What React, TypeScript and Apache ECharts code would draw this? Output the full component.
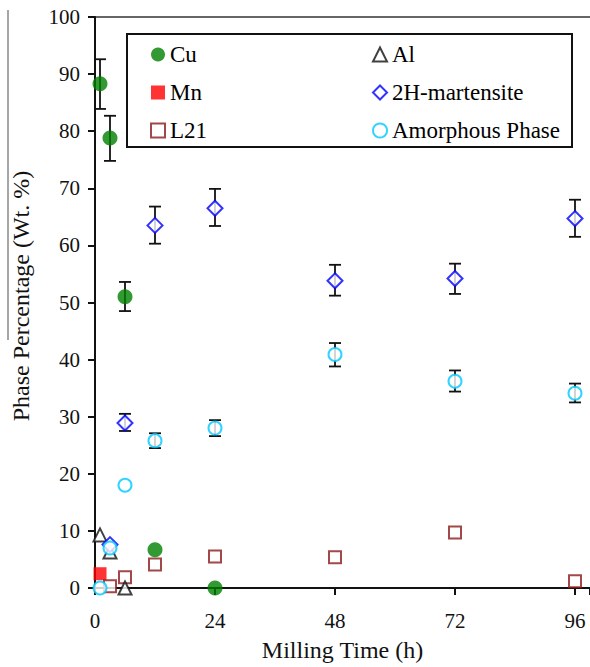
import React, { useEffect, useRef } from "react";
import * as echarts from "echarts";

const xTicks = [0, 24, 48, 72, 96];
const yTicks = [0, 10, 20, 30, 40, 50, 60, 70, 80, 90, 100];

const cuX = [1, 3, 6, 12, 24];
const cuY = [88.3, 78.8, 51.0, 6.7, 0];
const mnX = [1];
const mnY = [2.5];
const l21X = [3, 6, 12, 24, 48, 72, 96];
const l21Y = [0.3, 1.9, 4.1, 5.5, 5.4, 9.7, 1.2];
const alX = [1, 3, 6];
const alY = [9.3, 6.3, 0];
const h2X = [3, 6, 12, 24, 48, 72, 96];
const h2Y = [7.6, 28.9, 63.5, 66.5, 53.8, 54.2, 64.7];
const amX = [1, 3, 6, 12, 24, 48, 72, 96];
const amY = [0, 7.0, 18.0, 25.8, 28.0, 40.9, 36.2, 34.1];

// error bars: x, low, high
const errX = [1, 3, 6, 6, 12, 24, 48, 72, 96, 12, 24, 48, 72, 96];
const errLow = [83.9, 74.8, 48.5, 27.5, 60.3, 63.4, 51.2, 51.5, 61.5, 24.5, 26.6, 38.8, 34.4, 32.5];
const errHigh = [92.6, 82.7, 53.6, 30.5, 66.8, 69.9, 56.6, 56.8, 68.0, 27.1, 29.4, 42.9, 38.1, 35.8];

const FONT = "Liberation Serif, Times New Roman, serif";

const pair = (xs: number[], ys: number[]) => xs.map((x, i) => [x, ys[i]]);

export default function App() {
  const ref = useRef<HTMLDivElement>(null);
  useEffect(() => {
    if (!ref.current) return;
    const chart = echarts.init(ref.current, null, { renderer: "svg" });
    const errData = errX.map((x, i) => [x, errLow[i], errHigh[i]]);
    const legendText = { fontFamily: FONT, fontSize: 23, color: "#000" };
    chart.setOption({
      animation: false,
      backgroundColor: "#fff",
      textStyle: { fontFamily: FONT },
      grid: { left: 95, right: 0, top: 17, bottom: 79, containLabel: false, outerBoundsMode: "none" },
      xAxis: {
        type: "value",
        min: 0,
        max: 99,
        interval: 24,
        axisLine: { show: true, lineStyle: { color: "#111", width: 2 } },
        axisTick: { show: true, length: 7, inside: false, lineStyle: { color: "#111", width: 2 } },
        axisLabel: {
          fontFamily: FONT,
          fontSize: 21,
          color: "#111",
          margin: 22,
          formatter: (v: number) => (xTicks.includes(v) ? String(v) : ""),
        },
        splitLine: { show: false },
        name: "Milling Time (h)",
        nameLocation: "middle",
        nameGap: 50,
        nameTextStyle: { fontFamily: FONT, fontSize: 24, color: "#111" },
      },
      yAxis: {
        type: "value",
        min: 0,
        max: 100,
        interval: 10,
        axisLine: { show: true, lineStyle: { color: "#111", width: 2 } },
        axisTick: { show: true, length: 7, inside: false, lineStyle: { color: "#111", width: 2 } },
        axisLabel: {
          fontFamily: FONT,
          fontSize: 21,
          color: "#111",
          margin: 15,
          formatter: (v: number) => (yTicks.includes(v) ? String(v) : ""),
        },
        splitLine: { show: false },
      },
      legend: [
        {
          data: ["Cu", "Mn", "L21"],
          orient: "vertical",
          left: 145,
          top: 38,
          itemWidth: 14,
          itemHeight: 14,
          itemGap: 15,
          textStyle: legendText,
          selectedMode: false,
        },
        {
          data: ["Al", "2H-martensite", "Amorphous Phase"],
          orient: "vertical",
          left: 367,
          top: 38,
          itemWidth: 14,
          itemHeight: 14,
          itemGap: 15,
          textStyle: legendText,
          selectedMode: false,
        },
      ],
      graphic: [
        {
          type: "rect",
          shape: { x: 127, y: 34, width: 445, height: 113 },
          style: { fill: "none", stroke: "#111", lineWidth: 2 },
          z: 0,
        },
        {
          type: "line",
          shape: { x1: 95, y1: 17, x2: 590, y2: 17 },
          style: { stroke: "#333", lineWidth: 1.5 },
        },
        {
          type: "line",
          shape: { x1: 8, y1: 10, x2: 8, y2: 340 },
          style: { stroke: "#888", lineWidth: 1.5 },
        },
        {
          type: "text",
          x: 21,
          y: 296,
          rotation: Math.PI / 2,
          style: {
            text: "Phase Percentage (Wt. %)",
            fontFamily: FONT,
            fontSize: 24,
            fill: "#111",
            align: "center",
            verticalAlign: "middle",
          },
        },
      ],
      series: [
        {
          type: "custom",
          name: "err",
          z: 1,
          data: errData,
          renderItem: (params: any, api: any) => {
            const x = api.value(0);
            const lo = api.coord([x, api.value(1)]);
            const hi = api.coord([x, api.value(2)]);
            const w = 6;
            const st = { stroke: "#111", lineWidth: 1.8 };
            return {
              type: "group",
              children: [
                { type: "line", shape: { x1: lo[0], y1: lo[1], x2: hi[0], y2: hi[1] }, style: st },
                { type: "line", shape: { x1: lo[0] - w, y1: lo[1], x2: lo[0] + w, y2: lo[1] }, style: st },
                { type: "line", shape: { x1: hi[0] - w, y1: hi[1], x2: hi[0] + w, y2: hi[1] }, style: st },
              ],
            };
          },
        },
        {
          type: "scatter",
          name: "Cu",
          z: 3,
          symbol: "circle",
          symbolSize: 15,
          itemStyle: { color: "#008000" },
          data: pair(cuX, cuY),
        },
        {
          type: "scatter",
          name: "Mn",
          z: 3,
          symbol: "rect",
          symbolSize: 13,
          itemStyle: { color: "#ff0000" },
          data: pair(mnX, mnY),
        },
        {
          type: "scatter",
          name: "L21",
          z: 3,
          symbol: "rect",
          symbolSize: 12,
          itemStyle: { color: "#fff", borderColor: "#8b1a1a", borderWidth: 2 },
          data: pair(l21X, l21Y),
        },
        {
          type: "scatter",
          name: "Al",
          z: 3,
          symbol: "triangle",
          symbolSize: 13,
          itemStyle: { color: "#fff", borderColor: "#111", borderWidth: 2 },
          data: pair(alX, alY),
        },
        {
          type: "scatter",
          name: "2H-martensite",
          z: 3,
          symbol: "diamond",
          symbolSize: 15,
          itemStyle: { color: "#fff", borderColor: "#0000ff", borderWidth: 2 },
          data: pair(h2X, h2Y),
        },
        {
          type: "scatter",
          name: "Amorphous Phase",
          z: 4,
          symbol: "circle",
          symbolSize: 13,
          itemStyle: { color: "#fff", borderColor: "#00c8ff", borderWidth: 2 },
          data: pair(amX, amY),
        },
      ],
    });
    return () => chart.dispose();
  }, []);
  return <div ref={ref} style={{ width: 590, height: 667, position: "absolute", left: 0, top: 0 }} />;
}
